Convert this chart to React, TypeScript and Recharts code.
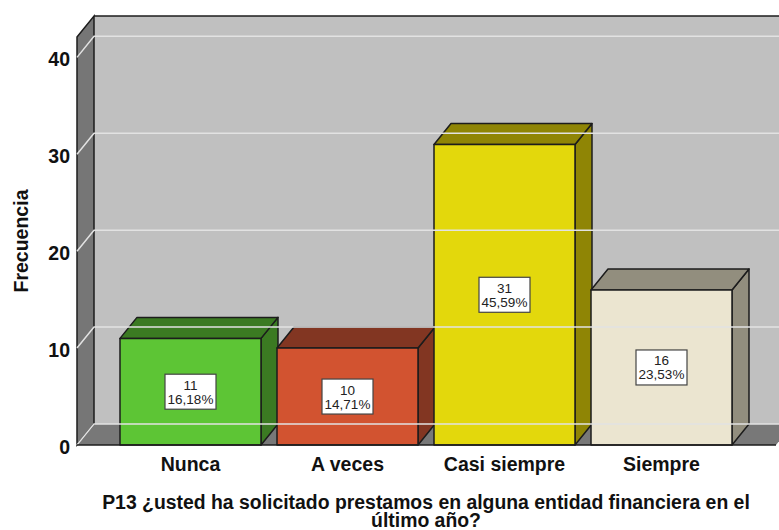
import { BarChart, Bar, XAxis, YAxis, LabelList, ReferenceArea, ReferenceLine } from 'recharts'

const categories = ['Nunca', 'A veces', 'Casi siempre', 'Siempre']
const counts = [11, 10, 31, 16]
const percents = ['16,18%', '14,71%', '45,59%', '23,53%']
const yTicks = [0, 10, 20, 30, 40]
const xTitle = ['P13 ¿usted ha solicitado prestamos en alguna entidad financiera en el', 'último año?']
const yTitle = 'Frecuencia'

const FRONT = ['#5dc535', '#d25330', '#e3d80c', '#ebe5d0']
const SIDE = ['#3b7a22', '#823622', '#8f8505', '#928e7e']
const DX = 17
const DY = 21
const PAD_LEFT = 35
const PAD_RIGHT = 36
const EDGE = '#1c1c1c'
const FONT = '"Liberation Sans", Arial, sans-serif'

const data = categories.map((name, i) => ({ name, count: counts[i], pct: percents[i] }))

function Box3D({ x, y, width, height, index }: any) {
  const r = x + width
  const b = y + height
  return (
    <g stroke={EDGE} strokeWidth={1.5} strokeLinejoin="round">
      <polygon points={`${r},${y} ${r + DX},${y - DY} ${r + DX},${b - DY} ${r},${b}`} fill={SIDE[index]} />
      <polygon points={`${x},${y} ${x + DX},${y - DY} ${r + DX},${y - DY} ${r},${y}`} fill={SIDE[index]} />
      <rect x={x} y={y} width={width} height={height} fill={FRONT[index]} />
    </g>
  )
}

// the area only spans the padded band range, so the walls add the axis padding back
function Walls({ x, y, width, height }: any) {
  const l = x - PAD_LEFT
  const r = x + width + PAD_RIGHT
  const b = y + height
  return (
    <g>
      <rect x={l + DX} y={y - DY} width={r - l} height={height} fill="#c0c0c0" />
      <line x1={l + DX} y1={y - DY} x2={r + DX} y2={y - DY} stroke={EDGE} strokeWidth={1.5} />
      <polygon points={`${l},${b} ${l + DX},${b - DY} ${r + DX},${b - DY} ${r},${b}`} fill="#787878" />
      <polygon
        points={`${l},${y} ${l + DX},${y - DY} ${l + DX},${b - DY} ${l},${b}`}
        fill="#767676"
        stroke={EDGE}
        strokeWidth={1.5}
      />
    </g>
  )
}

function GridLine({ x1, y1, x2 }: any) {
  const left = Math.min(x1, x2)
  const right = Math.max(x1, x2)
  return (
    <polyline
      points={`${left},${y1} ${left + DX},${y1 - DY} ${right + DX},${y1 - DY}`}
      fill="none"
      stroke="#e2e2e2"
      strokeWidth={1.5}
    />
  )
}

function BaseLine({ x1, y1, x2 }: any) {
  return <line x1={x1} y1={y1} x2={x2} y2={y1} stroke={EDGE} strokeWidth={1.5} />
}

function ValueBox({ x, y, width, height, index }: any) {
  const cx = x + width / 2
  const cy = y + height / 2
  return (
    <g fontFamily={FONT} fontSize={13.5} fill="#222" textAnchor="middle">
      <rect x={cx - 25.5} y={cy - 17.5} width={51} height={35} fill="#fff" stroke="#444" strokeWidth={1.2} />
      <text x={cx} y={cy - 2}>{counts[index]}</text>
      <text x={cx} y={cy + 12}>{percents[index]}</text>
    </g>
  )
}

function XTitle({ viewBox }: any) {
  const cx = 426
  return (
    <g fontFamily={FONT} fontSize={19.4} fontWeight="bold" fill="#111" textAnchor="middle">
      <text x={cx} y={viewBox.y + 64}>{xTitle[0]}</text>
      <text x={cx} y={viewBox.y + 82}>{xTitle[1]}</text>
    </g>
  )
}

export default function App() {
  return (
    <div style={{ position: 'absolute', left: 0, top: 0 }}>
      <BarChart
        width={779}
        height={530}
        data={data}
        margin={{ top: 37, right: 3, bottom: 0, left: 0 }}
        barSize={141}
      >
        <ReferenceArea y1={0} y2={42.1} shape={Walls} />
        {yTicks.map((t) => (
          <ReferenceLine key={t} y={t} shape={GridLine} />
        ))}
        <ReferenceLine y={0} shape={BaseLine} />
        <XAxis
          dataKey="name"
          axisLine={false}
          tickLine={false}
          height={85}
          padding={{ left: PAD_LEFT, right: PAD_RIGHT }}
          tick={{ fontFamily: FONT, fontSize: 19.5, fontWeight: 'bold', fill: '#111' }}
          tickMargin={6}
          interval={0}
          label={{ content: XTitle }}
        />
        <YAxis
          type="number"
          domain={[0, 42.1]}
          ticks={yTicks}
          axisLine={false}
          tickLine={false}
          width={77}
          tickMargin={1}
          tick={{ fontFamily: FONT, fontSize: 19.5, fontWeight: 'bold', fill: '#111', dy: 2 }}
          label={{
            value: yTitle,
            angle: -90,
            position: 'insideLeft',
            offset: 21,
            style: { fontFamily: FONT, fontSize: 19.5, fontWeight: 'bold', fill: '#111', textAnchor: 'middle' },
          }}
        />
        <Bar dataKey="count" shape={Box3D} isAnimationActive={false}>
          <LabelList dataKey="count" content={ValueBox} />
        </Bar>
      </BarChart>
    </div>
  )
}
